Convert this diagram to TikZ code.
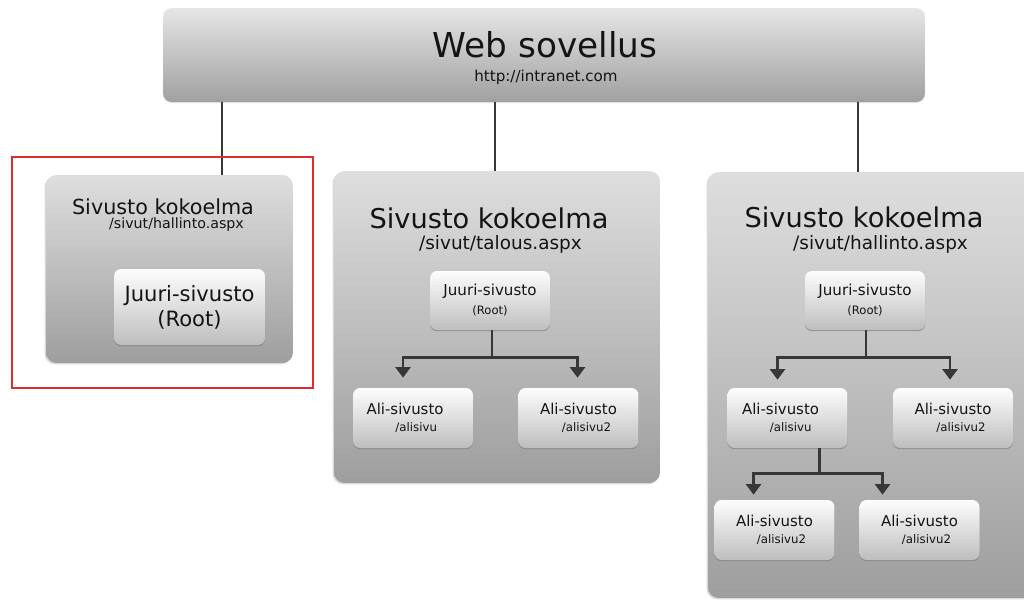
\documentclass[tikz,border=0pt]{standalone}
\usepackage{fontspec}
\setmainfont{DejaVu Sans}
\usetikzlibrary{calc, arrows.meta, shadows}

\definecolor{webtop}{RGB}{230,230,230}
\definecolor{webbot}{RGB}{160,160,160}
\definecolor{colltop}{RGB}{222,222,222}
\definecolor{collbot}{RGB}{158,158,158}
\definecolor{sitetop}{RGB}{253,253,253}
\definecolor{sitebot}{RGB}{190,190,190}
\definecolor{linegray}{RGB}{55,55,55}
\definecolor{markred}{RGB}{222,45,45}
\definecolor{textgray}{RGB}{20,20,20}

\newdimen\pxu \pxu=0.5669pt
\newcommand\fs[2]{\fontsize{#1}{#2}\selectfont}

\begin{document}
\begin{tikzpicture}[x=0.02cm, y=-0.02cm,
    web/.style={rounded corners=5pt, top color=webtop, bottom color=webbot,
        minimum width=15.24cm, minimum height=1.88cm, inner sep=0pt,
        drop shadow={shadow xshift=0pt, shadow yshift=-0.6pt, opacity=0.25}},
    coll/.style={rounded corners=6pt, top color=colltop, bottom color=collbot, inner sep=0pt,
        drop shadow={shadow xshift=-0.8pt, shadow yshift=-0.8pt, opacity=0.3}},
    site/.style={rounded corners=4pt, top color=sitetop, bottom color=sitebot,
        minimum width=2.4cm, minimum height=1.2cm, inner sep=0pt, align=left,
        text=textgray, font=\fs{8.5}{9.6},
        drop shadow={shadow xshift=0pt, shadow yshift=-0.7pt, opacity=0.7}},
    title/.style={anchor=base, inner sep=0pt, text=textgray},
    link/.style={draw=linegray, line width=1.6pt},
    tree/.style={link, -{Triangle[width=8.5pt, length=6pt]}},
]
    \useasboundingbox (0,0) rectangle (1024,599);
    \clip (0,0) rectangle (1024,599);

    % web application
    \node[web] (web) at (544,55) {};
    \node[title, font=\fs{19.5}{22}] (wt) at (545,57) {Web sovellus};
    \node[title, font=\fs{8.6}{10}] (wu) at (546,81) {http://intranet.com};

    % site collections
    \node[coll, minimum width=4.94cm, minimum height=3.76cm] (k1) at (169.5,269) {};
    \node[coll, minimum width=6.52cm, minimum height=6.24cm] (k2) at (497,327) {};
    \node[coll, minimum width=6.64cm, minimum height=8.52cm] (k3) at (874,385) {};

    \coordinate (w1) at (222,0);
    \coordinate (w2) at (495,0);
    \coordinate (w3) at (858,0);
    \draw[link] (w1 |- web.south) -- (w1 |- k1.north);
    \draw[link] (w2 |- web.south) -- (w2 |- k2.north);
    \draw[link] (w3 |- web.south) -- (w3 |- k3.north);

    \draw[markred, line width=1.2pt] (12,157) rectangle (313,388);

    \node[title, font=\fs{11.8}{13}] (t1) at (163,214) {Sivusto kokoelma};
    \node[title, font=\fs{8.1}{9}] (s1) at (176.5,228) {/sivut/hallinto.aspx};
    \node[title, font=\fs{15.5}{17}] (t2) at (489,228) {Sivusto kokoelma};
    \node[title, font=\fs{10.5}{12}] (s2) at (500.5,249) {/sivut/talous.aspx};
    \node[title, font=\fs{15.5}{17}] (t3) at (864,227) {Sivusto kokoelma};
    \node[title, font=\fs{10.5}{12}] (s3) at (880.5,249) {/sivut/hallinto.aspx};

    % root sites
    \node[site, align=center, minimum width=3.02cm, minimum height=1.52cm, font=\fs{12}{14.2}]
        (j1) at (189.5,307) {Juuri-sivusto\\(Root)};
    \node[site, align=center, minimum height=1.18cm, font=\fs{8.6}{10.8}]
        (r2) at (490,300.5) {Juuri-sivusto\\{\fs{6.6}{10.8}(Root)}};
    \node[site, align=center, minimum height=1.18cm, font=\fs{8.6}{10.8}]
        (r3) at (865,300.5) {Juuri-sivusto\\{\fs{6.6}{10.8}(Root)}};

    % sub sites
    \node[site] (a21) at (413,418) {Ali-sivusto\hspace*{16\pxu}\mbox{}\\\hspace*{29\pxu}{\fs{6.7}{9.6}/alisivu}};
    \node[site] (a22) at (578.5,418) {Ali-sivusto\\\hspace*{22\pxu}{\fs{6.7}{9.6}/alisivu2}};
    \node[site] (a31) at (787.5,418) {Ali-sivusto\hspace*{14\pxu}\mbox{}\\\hspace*{28\pxu}{\fs{6.7}{9.6}/alisivu}};
    \node[site] (a32) at (953,418) {Ali-sivusto\\\hspace*{22\pxu}{\fs{6.7}{9.6}/alisivu2}};
    \node[site] (g31) at (774.5,530) {Ali-sivusto\\\hspace*{21\pxu}{\fs{6.7}{9.6}/alisivu2}};
    \node[site] (g32) at (919.5,530) {Ali-sivusto\\\hspace*{21\pxu}{\fs{6.7}{9.6}/alisivu2}};

    \draw[tree] ($(r2.south)+(2,0)$) -- ++(0,27) -| ($(a21.north)+(-10,-10)$);
    \draw[tree] ($(r2.south)+(2,0)$) -- ++(0,27) -| ($(a22.north)+(-1,-10)$);
    \draw[tree] ($(r3.south)+(1,0)$) -- ++(0,27) -| ($(a31.north)+(-10,-8)$);
    \draw[tree] ($(r3.south)+(1,0)$) -- ++(0,27) -| ($(a32.north)+(-3,-8)$);
    \draw[tree] ($(a31.south)+(32,0)$) -- ++(0,25) -| ($(g31.north)+(-21,-5)$);
    \draw[tree] ($(a31.south)+(32,0)$) -- ++(0,25) -| ($(g32.north)+(-37,-5)$);
\end{tikzpicture}
\end{document}
